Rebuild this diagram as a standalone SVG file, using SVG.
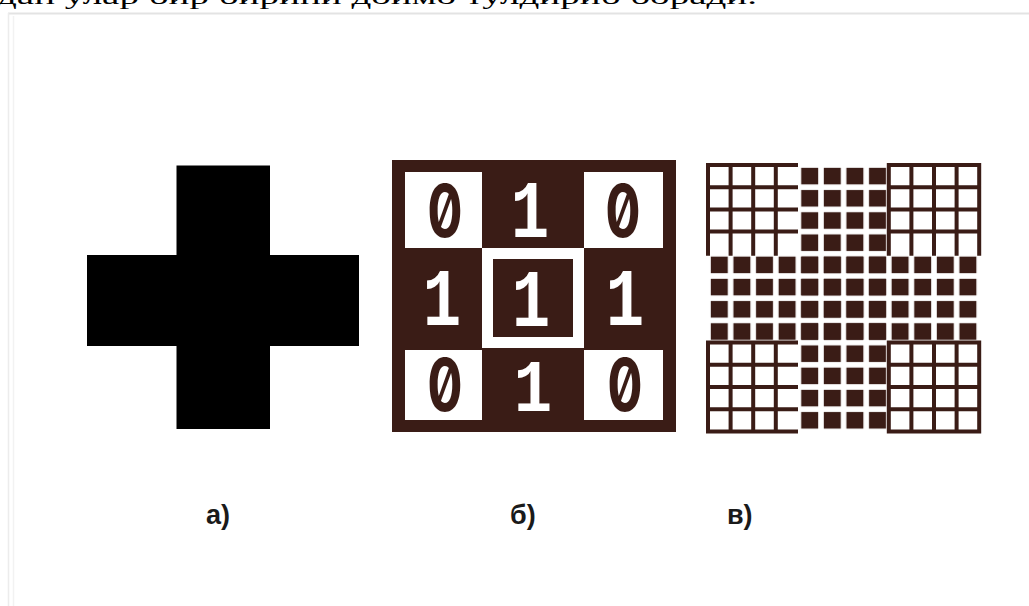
<svg xmlns="http://www.w3.org/2000/svg" width="1029" height="606" viewBox="0 0 1029 606">
<style>
.dk{fill:#3a1c16}
.wh{fill:#ffffff}
.zero{font-family:Inter,"DejaVu Sans",sans-serif;font-weight:700;font-size:73px;font-feature-settings:"zero" 1;fill:#3a1c16;text-anchor:middle}
.one{font-family:"Liberation Mono","DejaVu Sans Mono",monospace;font-weight:700;font-size:82px;fill:#ffffff;text-anchor:middle}
.lbl{font-family:"Liberation Sans",Arial,sans-serif;font-weight:700;font-size:27px;fill:#1a1a1a}
.grid{fill:none;stroke:#3a1c16;stroke-width:4;stroke-linecap:square}
</style>
<defs>
<pattern id="sq" patternUnits="userSpaceOnUse" x="708" y="165" width="22.6" height="22.2">
<rect x="2.8" y="2.8" width="17" height="16.6" fill="#3a1c16"/>
</pattern>
</defs>
<rect width="1029" height="606" fill="#ffffff"/>
<g id="frame" fill="none">
<line x1="8" y1="13.5" x2="1029" y2="13.5" stroke="#e3e3e3" stroke-width="2"/>
<line x1="8.5" y1="13" x2="8.5" y2="606" stroke="#ececec" stroke-width="1.5"/>
<line x1="13.5" y1="16" x2="13.5" y2="606" stroke="#f2f2f2" stroke-width="1.5"/>
</g>
<text x="-3" y="4" textLength="760" lengthAdjust="spacingAndGlyphs" font-family="'Liberation Serif','Times New Roman',serif" font-size="24" fill="#000">дан улар бир бирини доимо тулдириб боради.</text>

<g id="panel-a">
<path d="M176.5 165.5H270V255H359V346H270V429H176.5V346H87V255H176.5Z" fill="#000"/>
</g>

<g id="panel-b">
<rect class="dk" x="392" y="160" width="284" height="272"/>
<rect class="wh" x="405" y="172" width="77" height="76"/>
<rect class="wh" x="584" y="172" width="79" height="76"/>
<rect class="wh" x="405" y="350" width="77" height="70"/>
<rect class="wh" x="584" y="350" width="79" height="70"/>
<rect class="wh" x="482" y="248" width="102" height="100"/>
<rect class="dk" x="493" y="259" width="80" height="78"/>
<text class="zero" transform="translate(445,237) scale(0.72,1)">0</text>
<text class="zero" transform="translate(623,237) scale(0.72,1)">0</text>
<text class="zero" transform="translate(445,411) scale(0.72,1)">0</text>
<text class="zero" transform="translate(625,411) scale(0.72,1)">0</text>
<text class="one" transform="translate(530,237) scale(0.78,1)">1</text>
<text class="one" transform="translate(442,325) scale(0.78,1)">1</text>
<text class="one" transform="translate(531,326) scale(0.78,1)">1</text>
<text class="one" transform="translate(625,325) scale(0.78,1)">1</text>
<text class="one" transform="translate(533,411) scale(0.78,0.9)">1</text>
</g>

<g id="panel-c">
<rect x="798.4" y="165" width="90.4" height="266.4" fill="url(#sq)"/>
<rect x="708" y="253.8" width="271.2" height="88.8" fill="url(#sq)"/>
<path class="grid" d="M708 165V253.8M730.6 165V253.8M753.2 165V253.8M775.8 165V253.8
M708 165H796M708 187.2H796M708 209.4H796M708 231.6H796
M888.8 165V253.8M911.4 165V253.8M934 165V253.8M956.6 165V253.8M979.2 165V253.8
M888.8 165H979.2M888.8 187.2H979.2M888.8 209.4H979.2M888.8 231.6H979.2
M708 342.6V431.4M730.6 342.6V431.4M753.2 342.6V431.4M775.8 342.6V431.4
M708 342.6H796M708 364.8H796M708 387H796M708 409.2H796M708 431.4H796
M888.8 342.6V431.4M911.4 342.6V431.4M934 342.6V431.4M956.6 342.6V431.4M979.2 342.6V431.4
M888.8 342.6H979.2M888.8 364.8H979.2M888.8 387H979.2M888.8 409.2H979.2M888.8 431.4H979.2"/>
</g>

<g id="labels">
<text class="lbl" x="206" y="524">а)</text>
<text class="lbl" x="510" y="524">б)</text>
<text class="lbl" x="727" y="524">в)</text>
</g>
</svg>
